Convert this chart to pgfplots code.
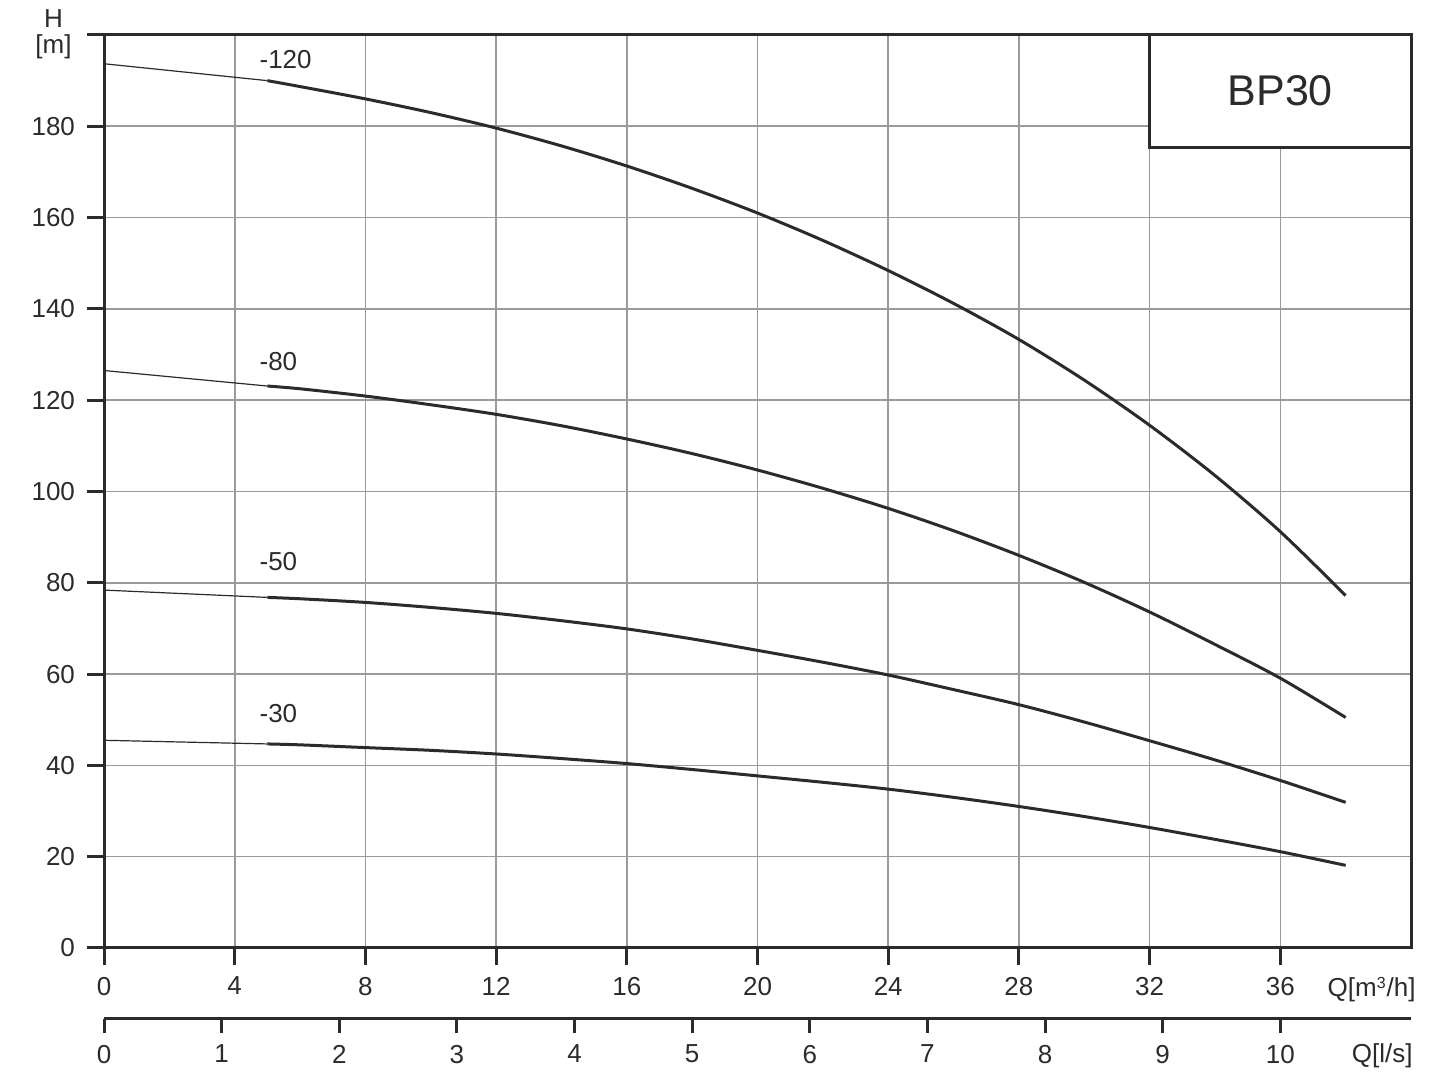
\documentclass[border=0pt]{standalone}
\usepackage{fontspec}
\setmainfont{Liberation Sans}
\usepackage{pgfplots}
\pgfplotsset{compat=1.18}
\definecolor{ink}{HTML}{2B2B2B}
\definecolor{gridgray}{HTML}{9A9A9A}

\begin{document}
\begin{tikzpicture}
% main axis: Q in m3/h against H in m
\begin{axis}[
  at={(52pt,63pt)}, anchor=south west,
  scale only axis, width=653.5pt, height=456.5pt,
  xmin=0, xmax=40, ymin=0, ymax=200,
  xtick={0,4,...,36}, ytick={0,20,...,180},
  extra y ticks={200}, extra y tick labels={},
  extra y tick style={grid=none},
  grid=major, major grid style={gridgray, line width=0.8pt},
  axis line style={ink, line width=1.5pt},
  tick style={ink, line width=1.5pt},
  tick align=outside, major tick length=8.5pt,
  xtick pos=bottom, ytick pos=left,
  ticklabel style={font=\fontsize{13}{15}\selectfont, text=ink},
  /pgf/number format/assume math mode=true,
  xticklabel style={yshift=-2.5pt},
  yticklabel style={xshift=-2.5pt},
  clip=false,
]
% -120
\addplot[ink, line width=0.6pt] coordinates {(0,193.7) (5,190.0)};
\addplot[ink, line width=1.5pt, smooth] coordinates {
  (5,190.0) (6,188.7) (8,186.0) (10,183.0) (12,179.6) (14,175.7) (16,171.3)
  (18,166.4) (20,161.0) (22,155.0) (24,148.4) (26,141.2) (28,133.3)
  (30,124.4) (32,114.5) (34,103.5) (36,91.2) (38,77.2)
};
% -80
\addplot[ink, line width=0.6pt] coordinates {(0,126.5) (5,123.1)};
\addplot[ink, line width=1.5pt, smooth] coordinates {
  (5,123.1) (6,122.5) (8,120.9) (10,119.0) (12,116.9) (14,114.4) (16,111.5)
  (18,108.3) (20,104.7) (22,100.7) (24,96.3) (26,91.4) (28,86.0)
  (30,80.1) (32,73.6) (34,66.5) (36,59.1) (38,50.5)
};
% -50
\addplot[ink, line width=0.6pt] coordinates {(0,78.4) (5,76.8)};
\addplot[ink, line width=1.5pt, smooth] coordinates {
  (5,76.8) (6,76.5) (8,75.7) (10,74.6) (12,73.3) (14,71.7) (16,69.9)
  (18,67.7) (20,65.2) (22,62.6) (24,59.8) (26,56.6) (28,53.3)
  (30,49.5) (32,45.4) (34,41.2) (36,36.7) (38,31.9)
};
% -30
\addplot[ink, line width=0.6pt] coordinates {(0,45.5) (5,44.7)};
\addplot[ink, line width=1.5pt, smooth] coordinates {
  (5,44.7) (6,44.5) (8,43.9) (10,43.3) (12,42.5) (14,41.5) (16,40.4)
  (18,39.1) (20,37.7) (22,36.3) (24,34.8) (26,33.0) (28,31.0)
  (30,28.8) (32,26.4) (34,23.8) (36,21.1) (38,18.1)
};

\node[anchor=west, inner sep=0, font=\fontsize{13}{15}\selectfont, text=ink] at (axis cs:4.75,194.7) {-120};
\node[anchor=west, inner sep=0, font=\fontsize{13}{15}\selectfont, text=ink] at (axis cs:4.75,128.5) {-80};
\node[anchor=west, inner sep=0, font=\fontsize{13}{15}\selectfont, text=ink] at (axis cs:4.75,84.6) {-50};
\node[anchor=west, inner sep=0, font=\fontsize{13}{15}\selectfont, text=ink] at (axis cs:4.75,51.3) {-30};

\draw[ink, line width=1.5pt, fill=white] (axis cs:32,175.4) rectangle (axis cs:40,200);
\node[font=\fontsize{21.5}{24}\selectfont, text=ink] at (axis cs:36,187.8) {BP30};
\end{axis}

% second scale: Q in l/s
\begin{axis}[
  at={(52pt,27.5pt)}, anchor=south west,
  scale only axis, width=653.5pt, height=10pt,
  xmin=0, xmax=11.1111, ymin=0, ymax=1,
  axis x line*=bottom, hide y axis,
  xtick={0,...,10},
  axis line style={ink, line width=1.5pt},
  tick style={ink, line width=1.5pt},
  tick align=outside, major tick length=7pt,
  ticklabel style={font=\fontsize{13}{15}\selectfont, text=ink},
  /pgf/number format/assume math mode=true,
  xticklabel style={yshift=-2.5pt},
]
\addplot[draw=none] coordinates {(0,0)};
\end{axis}

\node[anchor=base, inner sep=0, font=\fontsize{13}{15}\selectfont, text=ink] at (26.75pt,523pt) {H};
\node[anchor=base, inner sep=0, font=\fontsize{13}{15}\selectfont, text=ink] at (26.75pt,510.4pt) {[m]};
\node[anchor=base east, inner sep=0, font=\fontsize{13}{15}\selectfont, text=ink] at (708pt,38.5pt) {Q[m\textsuperscript{\fontsize{8}{9}\selectfont 3}/h]};
\node[anchor=base east, inner sep=0, font=\fontsize{13}{15}\selectfont, text=ink] at (706.5pt,5.5pt) {Q[l/s]};

\pgfresetboundingbox
\path[use as bounding box] (0pt,0pt) rectangle (727pt,537pt);
\end{tikzpicture}
\end{document}
